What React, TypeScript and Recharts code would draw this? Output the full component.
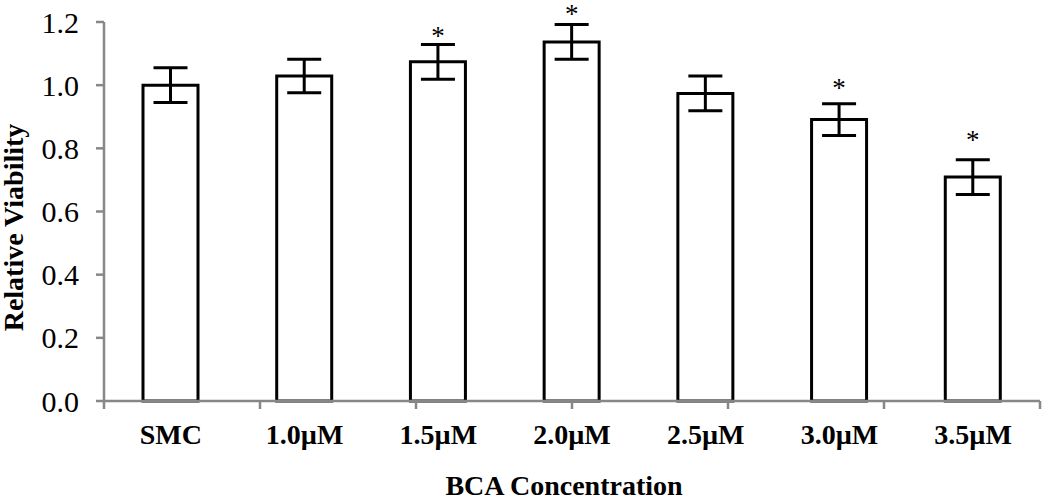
import { BarChart, Bar, XAxis, YAxis, ErrorBar, LabelList, Label } from 'recharts';

const categories = ['SMC', '1.0µM', '1.5µM', '2.0µM', '2.5µM', '3.0µM', '3.5µM'];
const viability = [1.0, 1.029, 1.074, 1.137, 0.974, 0.891, 0.709];
const errors = [0.055, 0.053, 0.055, 0.055, 0.055, 0.05, 0.055];
// height of the significance star, null = none
const starLevel: (number | null)[] = [null, null, 1.165, 1.235, null, 1.0, 0.836];
const yTicks = [0, 0.2, 0.4, 0.6, 0.8, 1.0, 1.2];
const edgeTicks = [0, 1, 2, 3, 4, 5, 6, 7];

const data = categories.map((name, i) => ({
  name,
  v: viability[i],
  err: errors[i],
}));

const axisGrey = '#878787';

const StarLabel = (props: any) => {
  const { x, y, width, height, index } = props;
  const s = starLevel[index];
  if (s == null) return null;
  const v = viability[index];
  const pxPerUnit = height / v;
  const cy = y - (s - v) * pxPerUnit;
  return (
    <text
      x={x + width / 2}
      y={cy}
      dy={12}
      textAnchor="middle"
      fontFamily="Liberation Serif"
      fontSize={27}
      fill="#000"
    >
      *
    </text>
  );
};

export default function App() {
  return (
    <div style={{ position: 'absolute', left: 0, top: 0, background: '#fff' }}>
      <BarChart
        width={1050}
        height={499}
        data={data}
        margin={{ top: 22, right: 10, left: 0, bottom: 0 }}
      >
        <XAxis
          xAxisId="a0"
          type="number"
          domain={[0, 7]}
          ticks={edgeTicks}
          interval={0}
          tickFormatter={() => ''}
          tickSize={8}
          height={10}
          stroke={axisGrey}
          strokeWidth={2.5}
        />
        <XAxis
          xAxisId="b1"
          dataKey="name"
          interval={0}
          axisLine={false}
          tickLine={false}
          tickSize={0}
          tickMargin={13}
          height={88}
          tick={{ fontFamily: 'Liberation Serif', fontWeight: 'bold', fontSize: 28, fill: '#000' }}
        >
          <Label
            value="BCA Concentration"
            position="insideBottom"
            offset={4}
            dx={-8}
            style={{ fontFamily: 'Liberation Serif', fontWeight: 'bold', fontSize: 28, fill: '#000' }}
          />
        </XAxis>
        <YAxis
          domain={[0, 1.2]}
          ticks={yTicks}
          interval={0}
          width={104}
          tickSize={8}
          tickMargin={17}
          stroke={axisGrey}
          strokeWidth={2.5}
          tickFormatter={(v: number) => v.toFixed(1)}
          tick={{ fontFamily: 'Liberation Serif', fontSize: 30, fill: '#000' }}
        >
          <Label
            value="Relative Viability"
            angle={-90}
            position="insideLeft"
            offset={13}
            dy={16}
            style={{ textAnchor: 'middle', fontFamily: 'Liberation Serif', fontWeight: 'bold', fontSize: 28, fill: '#000' }}
          />
        </YAxis>
        <Bar
          xAxisId="b1"
          dataKey="v"
          fill="#fff"
          stroke="#000"
          strokeWidth={3}
          barSize={55}
          isAnimationActive={false}
        >
          <ErrorBar dataKey="err" width={17} stroke="#000" strokeWidth={3} />
          <LabelList dataKey="v" content={StarLabel} />
        </Bar>
      </BarChart>
    </div>
  );
}
